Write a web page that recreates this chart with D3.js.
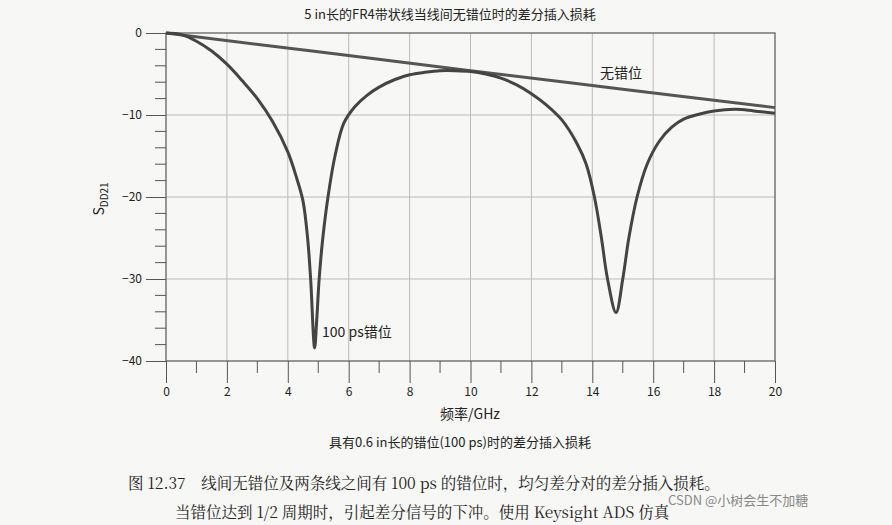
<!DOCTYPE html>
<html><head><meta charset="utf-8">
<script src="https://cdn.jsdelivr.net/npm/d3@7"></script>
<style>body{margin:0;background:#f7f7f5}text{font-family:"Liberation Sans Narrow","Noto Sans CJK SC",sans-serif;fill:#222}</style>
</head><body><svg width="892" height="525"></svg>
<script>
// frequency (GHz) / dB readings
const noSkewF = [0, 5, 10, 15, 20];
const noSkewDb = [0, -2.3, -4.6, -6.85, -9.1];
const skewF = [0, 0.5, 1, 1.5, 2, 2.5, 3, 3.5, 4, 4.3, 4.5, 4.65, 4.75, 4.88, 4.95, 5.03, 5.15, 5.32, 5.55, 5.84, 6.2, 6.6, 7, 7.5, 8, 8.5, 9, 9.5, 10, 10.5, 11, 11.5, 12, 12.5, 13, 13.5, 13.8, 14.07, 14.3, 14.5, 14.78, 15, 15.2, 15.47, 15.8, 16.2, 16.6, 17, 17.5, 18, 18.7, 19.3, 20];
const skewDb = [0, -0.2, -1.0, -2.2, -3.8, -5.8, -8.0, -10.8, -14.5, -17.8, -20.5, -25, -30, -38.4, -35, -30, -25, -20, -15, -11, -9, -7.6, -6.6, -5.7, -5.1, -4.8, -4.6, -4.6, -4.7, -5.0, -5.5, -6.3, -7.4, -8.8, -10.6, -13.5, -16, -20, -25, -30, -34.1, -30, -25, -20, -16, -13.2, -11.5, -10.5, -9.9, -9.5, -9.3, -9.5, -9.8];
const xTicks = d3.range(0, 21, 2);
const yTicks = [0, -10, -20, -30, -40];

const svg = d3.select("svg");
const x = d3.scaleLinear().domain([0, 20]).range([166, 775]);
const y = d3.scaleLinear().domain([0, -40]).range([33, 361]);

// grid
svg.selectAll(".vg").data(xTicks.slice(1, -1)).join("line")
  .attr("x1", d => x(d)).attr("x2", d => x(d)).attr("y1", y(0)).attr("y2", y(-40))
  .attr("stroke", "#bbb").attr("stroke-width", 1);
svg.selectAll(".hg").data(yTicks.slice(1, -1)).join("line")
  .attr("x1", x(0)).attr("x2", x(20)).attr("y1", d => y(d)).attr("y2", d => y(d))
  .attr("stroke", "#bbb").attr("stroke-width", 1);
svg.append("rect").attr("x", x(0)).attr("y", y(0)).attr("width", x(20) - x(0)).attr("height", y(-40) - y(0))
  .attr("fill", "none").attr("stroke", "#555").attr("stroke-width", 1.2);

// y axis: ticks outside, minor every 2 dB
const yAxis = d3.axisLeft(y).tickValues(yTicks).tickSize(20).tickFormat(d => d === 0 ? "0" : "\u2212" + (-d));
const ga = svg.append("g").attr("transform", `translate(${x(0)},0)`).call(yAxis);
ga.select(".domain").remove();
ga.selectAll("line").attr("stroke", "#555");
ga.selectAll("text").attr("x", -24).style("font-size", "12px");
svg.selectAll(".ym").data(d3.range(-2, -40, -2).filter(d => d % 10)).join("line")
  .attr("x1", x(0)).attr("x2", x(0) - 11).attr("y1", d => y(d)).attr("y2", d => y(d)).attr("stroke", "#555");

// x axis
const xAxis = d3.axisBottom(x).tickValues(xTicks).tickSize(22).tickFormat(d3.format("d"));
const gx = svg.append("g").attr("transform", `translate(0,${y(-40)})`).call(xAxis);
gx.select(".domain").remove();
gx.selectAll("line").attr("stroke", "#555");
gx.selectAll("text").style("font-size", "12px").attr("y", 26);
svg.selectAll(".xm").data(d3.range(1, 20, 2)).join("line")
  .attr("x1", d => x(d)).attr("x2", d => x(d)).attr("y1", y(-40)).attr("y2", y(-40) + 12).attr("stroke", "#555");

const line = d3.line().x(d => x(d[0])).y(d => y(d[1])).curve(d3.curveCatmullRom);
svg.append("path").datum(d3.zip(noSkewF, noSkewDb)).attr("d", line)
  .attr("fill", "none").attr("stroke", "#555").attr("stroke-width", 3);
svg.append("path").datum(d3.zip(skewF, skewDb)).attr("d", line)
  .attr("fill", "none").attr("stroke", "#444").attr("stroke-width", 3).attr("stroke-linejoin", "round");

svg.append("text").attr("x", 600).attr("y", 78).text("无错位").style("font-size", "14px");
svg.append("text").attr("x", 322).attr("y", 337).text("100 ps错位").style("font-size", "14px");
svg.append("text").attr("x", 450).attr("y", 19).attr("text-anchor", "middle").text("5 in长的FR4带状线当线间无错位时的差分插入损耗").style("font-size", "13px");
const yl = svg.append("text").attr("transform", "translate(104,199) rotate(-90)").attr("text-anchor", "middle").style("font-size", "14px");
yl.append("tspan").text("S");
yl.append("tspan").text("DD21").attr("dy", 4).style("font-size", "10px");
svg.append("text").attr("x", 470).attr("y", 419).attr("text-anchor", "middle").text("频率/GHz").style("font-size", "14px");
svg.append("text").attr("x", 460).attr("y", 447).attr("text-anchor", "middle").text("具有0.6 in长的错位(100 ps)时的差分插入损耗").style("font-size", "13px");
svg.append("text").attr("x", 128).attr("y", 489).text("图 12.37　线间无错位及两条线之间有 100 ps 的错位时，均匀差分对的差分插入损耗。")
  .style("font-size", "15.5px").style("font-family", "Noto Serif CJK SC,Noto Sans CJK SC,serif");
svg.append("text").attr("x", 175).attr("y", 518).text("当错位达到 1/2 周期时，引起差分信号的下冲。使用 Keysight ADS 仿真")
  .style("font-size", "15.5px").style("font-family", "Noto Serif CJK SC,Noto Sans CJK SC,serif");
svg.append("text").attr("x", 668).attr("y", 505).text("CSDN @小树会生不加糖").style("font-size", "13px").style("fill", "#888");
</script></body></html>
